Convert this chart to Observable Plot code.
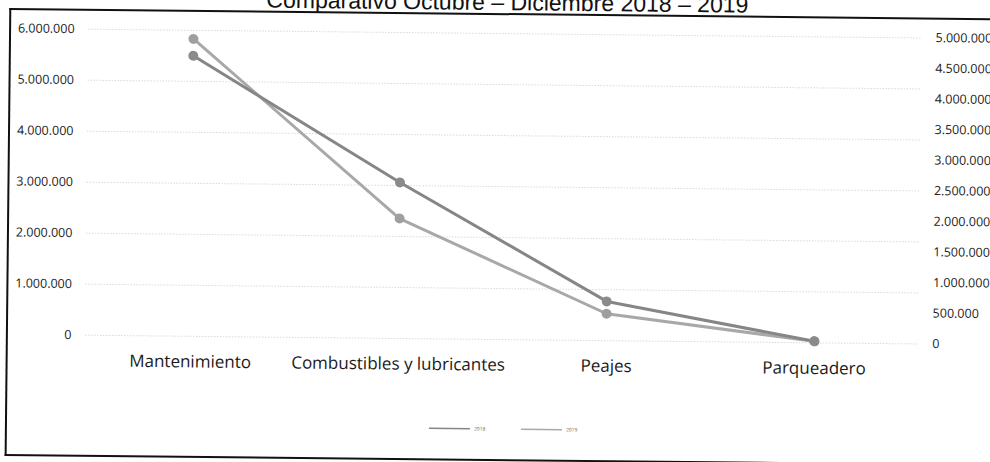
<!DOCTYPE html>
<html><head><meta charset="utf-8">
<script src="https://cdn.jsdelivr.net/npm/d3@7"></script>
<script src="https://cdn.jsdelivr.net/npm/@observablehq/plot@0.6"></script>
<style>
html,body{margin:0;padding:0;background:#fff;overflow:hidden}
#wrap{position:relative;width:990px;height:462px;transform:rotate(0.6deg);transform-origin:495px 231px}
#frame{position:absolute;left:7px;top:13px;width:1100px;height:444px;border-left:2px solid #111;border-top:2px solid #111;border-bottom:2px solid #111}
#title{position:absolute;left:0;width:1010px;top:-12px;text-align:center;font-family:"Liberation Sans",Arial,sans-serif;font-size:23px;color:#111;line-height:28px;white-space:nowrap}
#chart{position:absolute;left:0;top:0}
#legend{position:absolute;left:425px;top:422px}
</style></head><body>
<div id="wrap"><div id="frame"></div><div id="chart"></div><div id="legend"></div><div id="title">Comparativo Octubre – Diciembre 2018 – 2019</div></div>
<script>
// ---- data ----
const categories = ["Mantenimiento", "Combustibles y lubricantes", "Peajes", "Parqueadero"];
const seriesNames = ["2018", "2019"];
const values2018 = [5500000, 3060000, 770000, 30000];   // eje principal (izquierda)
const values2019 = [4860000, 1960000, 440000, 25000];   // eje secundario (derecha)
const leftTicks = [0, 1000000, 2000000, 3000000, 4000000, 5000000, 6000000];
const rightTicks = [0, 500000, 1000000, 1500000, 2000000, 2500000, 3000000, 3500000, 4000000, 4500000, 5000000];

const colors = {"2018": "#868686", "2019": "#a8a8a8"};
const dotColors = {"2018": "#8a8a8a", "2019": "#9f9f9f"};

const fmt = d3.formatLocale({decimal: ",", thousands: ".", grouping: [3], currency: ["$", ""]}).format(",.0f");
const leftMax = leftTicks[leftTicks.length - 1];
const rightMax = rightTicks[rightTicks.length - 1];
const secToPrim = v => v * leftMax / rightMax;
const primToSec = v => Math.round(v * rightMax / leftMax);

const rows2018 = categories.map((c, i) => ({cat: c, value: values2018[i]}));
const rows2019 = categories.map((c, i) => ({cat: c, value: values2019[i]}));

const plot = Plot.plot({
  width: 990, height: 462,
  marginLeft: 86, marginRight: 71, marginTop: 33, marginBottom: 123,
  style: {background: "transparent", fontFamily: "'Open Sans', sans-serif", overflow: "visible"},
  x: {type: "point", domain: categories, padding: 0.5, label: null},
  y: {domain: [0, leftMax], label: null},
  marks: [
    Plot.gridY(leftTicks, {stroke: "#aaa", strokeOpacity: 0.45, strokeDasharray: "1.5,1.5"}),
    Plot.axisY(leftTicks, {anchor: "left", tickSize: 0, tickPadding: 14, tickFormat: fmt, fontSize: 12.5, fill: "#1a1a1a", label: null}),
    Plot.axisY(rightTicks.map(secToPrim), {anchor: "right", tickSize: 0, tickPadding: 14, tickFormat: d => fmt(primToSec(d)), fontSize: 12.5, fill: "#1a1a1a", label: null}),
    Plot.axisX({tickSize: 0, tickPadding: 19, fontSize: 17, fill: "#1a1a1a", label: null}),
    Plot.line(rows2019, {x: "cat", y: d => secToPrim(d.value), stroke: colors["2019"], strokeWidth: 3}),
    Plot.line(rows2018, {x: "cat", y: "value", stroke: colors["2018"], strokeWidth: 3}),
    Plot.dot(rows2019, {x: "cat", y: d => secToPrim(d.value), r: 5, fill: dotColors["2019"]}),
    Plot.dot(rows2018, {x: "cat", y: "value", r: 5, fill: dotColors["2018"]})
  ]
});
document.getElementById("chart").appendChild(plot);

// legend
const leg = d3.select("#legend").append("svg").attr("width", 170).attr("height", 14);
seriesNames.forEach((name, i) => {
  const g = leg.append("g").attr("transform", `translate(${6 + i * 92},7)`);
  g.append("line").attr("x1", 0).attr("x2", 41).attr("stroke", colors[name]).attr("stroke-width", 1.5);
  g.append("text").attr("x", 45).attr("dy", "0.35em").attr("font-size", 5).attr("font-family", "'Open Sans',sans-serif").attr("fill", "#666").text(name);
});
</script>
</body></html>
